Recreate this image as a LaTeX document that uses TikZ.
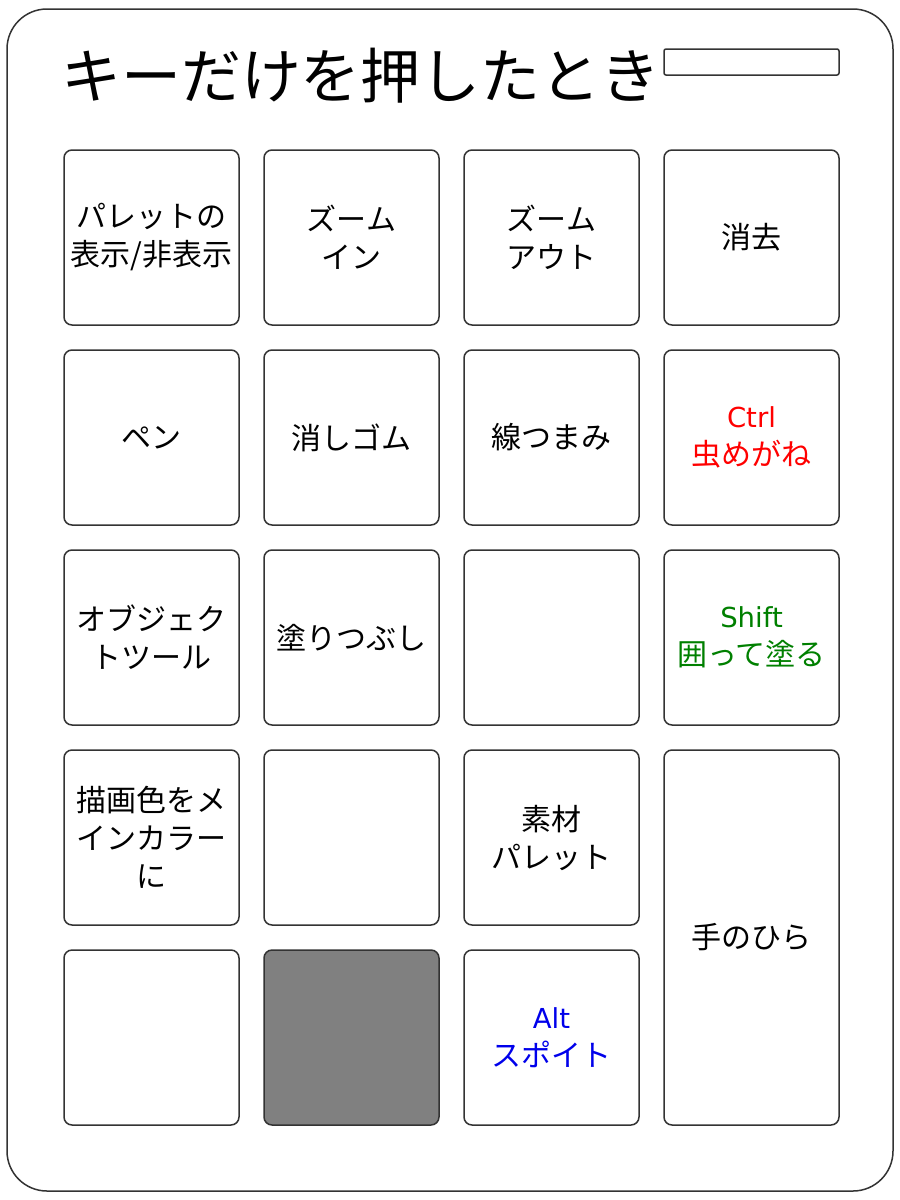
\documentclass[tikz,border=0pt]{standalone}
\usepackage{fontspec}
\setmainfont{DejaVu Sans}
\newfontfamily\jpfont{Noto Sans CJK JP}
\newfontfamily\latinfont{DejaVu Sans}
\definecolor{keyline}{RGB}{51,51,51}
\definecolor{ctrlred}{RGB}{255,0,0}
\definecolor{shiftgreen}{RGB}{0,128,0}
\definecolor{altblue}{RGB}{0,0,235}

\tikzset{
	keybox/.style={draw=keyline, line width=1.5pt, rounded corners=8pt, fill=white,
		minimum width=175pt, minimum height=175pt, inner sep=0pt, align=center,
		font=\jpfont\fontsize{30}{38}\selectfont},
	tallkey/.style={keybox, minimum height=375pt},
	blankkey/.style={keybox, fill=black!50}
}

\begin{document}
\begin{tikzpicture}[x=1pt, y=-1pt]

	\useasboundingbox (0,0) rectangle (900,1200);

	% outer frame
	\draw [line width=1.5pt, draw=keyline, rounded corners=40pt] (7,9) rectangle (893,1191);
	\node (title) at (361,76) {\jpfont\fontsize{60}{66}\selectfont キーだけを押したとき};
	\draw [line width=1.5pt, draw=keyline, rounded corners=2pt] (664,49) rectangle (839,75);

	% row 1
	\node [keybox] (palette) at (151.5,237.5) {パレットの\\表示/非表示};
	\node [keybox] (zoomin) at (351.5,237.5) {ズーム\\イン};
	\node [keybox] (zoomout) at (551.5,237.5) {ズーム\\アウト};
	\node [keybox] (erase) at (751.5,237.5) {消去};

	% row 2
	\node [keybox] (pen) at (151.5,437.5) {ペン};
	\node [keybox] (eraser) at (351.5,437.5) {消しゴム};
	\node [keybox] (linepick) at (551.5,437.5) {線つまみ};
	\node [keybox, text=ctrlred] (loupe) at (751.5,437.5) {{\latinfont\fontsize{27.5}{38}\selectfont Ctrl}\\虫めがね};

	% row 3
	\node [keybox] (objtool) at (151.5,637.5) {オブジェク\\トツール};
	\node [keybox] (fill) at (351.5,637.5) {塗りつぶし};
	\node [keybox] (empty1) at (551.5,637.5) {};
	\node [keybox, text=shiftgreen] (lasso) at (751.5,637.5) {{\latinfont\fontsize{27.5}{38}\selectfont Shift}\\囲って塗る};

	% row 4
	\node [keybox] (maincolor) at (151.5,837.5) {描画色をメ\\インカラー\\に};
	\node [keybox] (empty2) at (351.5,837.5) {};
	\node [keybox] (material) at (551.5,837.5) {素材\\パレット};
	\node [tallkey] (hand) at (751.5,937.5) {手のひら};

	% row 5
	\node [keybox] (empty3) at (151.5,1037.5) {};
	\node [blankkey] (dead) at (351.5,1037.5) {};
	\node [keybox, text=altblue] (picker) at (551.5,1037.5) {{\latinfont\fontsize{27.5}{38}\selectfont Alt}\\スポイト};

\end{tikzpicture}
\end{document}
